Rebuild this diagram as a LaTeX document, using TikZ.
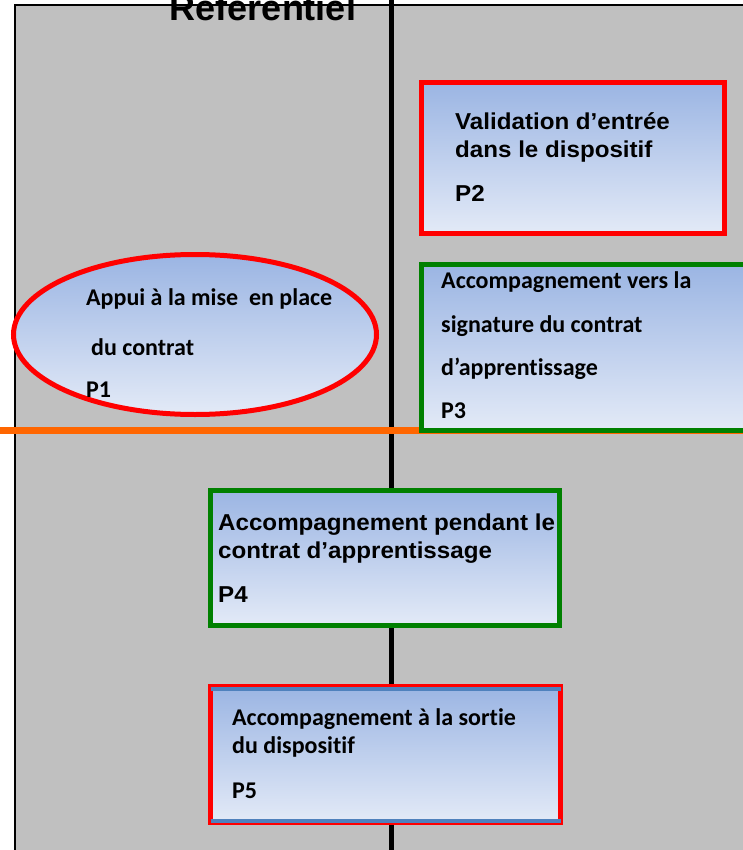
\documentclass[tikz,border=0pt]{standalone}
\usepackage{fontspec}
\newfontfamily\arialf[FakeStretch=1.05]{Liberation Sans}
\newfontfamily\titlef{Liberation Sans}
\newfontfamily\calf[Ligatures={NoCommon}]{Carlito}
\usetikzlibrary{shapes.geometric}
\definecolor{bggray}{HTML}{C0C0C0}
\definecolor{boxred}{HTML}{FF0000}
\definecolor{boxgreen}{HTML}{008000}
\definecolor{lineorange}{HTML}{FF6600}
\definecolor{gradtop}{HTML}{9BB5E3}
\definecolor{gradbot}{HTML}{E3EAF7}
\definecolor{edgeblue}{HTML}{4F81BD}
\tikzset{
  panel/.style={rectangle, line width=5pt, top color=gradtop, bottom color=gradbot, inner sep=0pt},
  redpanel/.style={panel, draw=boxred},
  greenpanel/.style={panel, draw=boxgreen},
  atxt/.style={anchor=base west, inner sep=0pt, font=\arialf\bfseries\fontsize{23}{27}\selectfont},
  ctxt/.style={anchor=base west, inner sep=0pt, font=\calf\bfseries\fontsize{24}{28}\selectfont},
}
\begin{document}
\begin{tikzpicture}[x=1pt,y=-1pt]
\useasboundingbox (0,0) rectangle (743,850);
% background panel
\fill[bggray] (15,5) rectangle (770,870);
\node[anchor=base, inner sep=0pt, font=\titlef\bfseries\fontsize{36}{40}\selectfont] (title) at (263,21) {Referentiel};
\draw[line width=2pt] (15,870) -- (15,5) -- (770,5);
\draw[line width=5pt] (391,-5) -- (391,870);
\draw[lineorange, line width=7pt] (0,430) -- (760,430);
% P1 ellipse
\node[ellipse, draw=boxred, line width=5pt, top color=gradtop, bottom color=gradbot,
      minimum width=363pt, minimum height=160pt, inner sep=0pt] (p1) at (195,334.5) {};
\node[ctxt] (p1a) at (86,305) {Appui à la mise\ \ en place};
\node[ctxt] (p1b) at (91,355) {du contrat};
\node[ctxt] (p1c) at (86,397) {P1};
% P2
\node[redpanel, minimum width=303pt, minimum height=151pt] (p2) at (573,158) {};
\node[atxt] (p2a) at (455,130) {Validation d’entrée};
\node[atxt] (p2b) at (455,158) {dans le dispositif};
\node[atxt] (p2c) at (455,202) {P2};
% P3
\node[greenpanel, minimum width=338.5pt, minimum height=166pt] (p3) at (590.75,347.5) {};
\node[ctxt] (p3a) at (441,288) {Accompagnement vers la};
\node[ctxt] (p3b) at (441,332) {signature du contrat};
\node[ctxt] (p3c) at (441,375) {d’apprentissage};
\node[ctxt] (p3d) at (441,418) {P3};
% P4
\node[greenpanel, minimum width=349pt, minimum height=135pt] (p4) at (385,558) {};
\node[atxt] (p4a) at (218,530) {Accompagnement pendant le};
\node[atxt] (p4b) at (218,558) {contrat d’apprentissage};
\node[atxt] (p4c) at (218,602) {P4};
% P5
\node[redpanel, minimum width=350pt, minimum height=136pt] (p5) at (385.5,754.5) {};
\draw[edgeblue, line width=4pt] ([shift={(2.5pt,-4.5pt)}]p5.north west) -- ([shift={(-2.5pt,-4.5pt)}]p5.north east);
\draw[edgeblue, line width=4pt] ([shift={(2.5pt,4.5pt)}]p5.south west) -- ([shift={(-2.5pt,4.5pt)}]p5.south east);
\node[ctxt] (p5a) at (232,725) {Accompagnement à la sortie};
\node[ctxt] (p5b) at (232,753) {du dispositif};
\node[ctxt] (p5c) at (232,798) {P5};
\end{tikzpicture}
\end{document}
